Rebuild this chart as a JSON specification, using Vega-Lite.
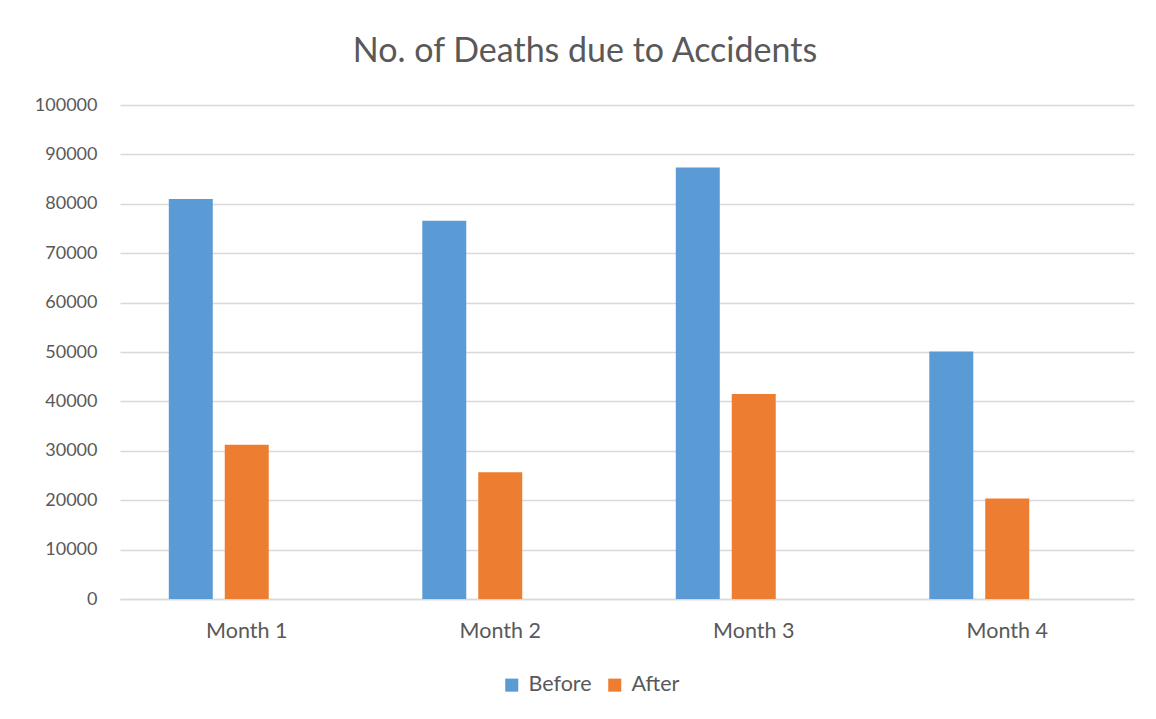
{
  "$schema": "https://vega.github.io/schema/vega-lite/v6.json",
  "autosize": {"type": "none"},
  "width": 1014,
  "height": 494,
  "padding": {"left": 120, "top": 105, "right": 22, "bottom": 120},
  "background": "white",
  "config": {
    "font": "Lato",
    "view": {"stroke": null},
    "axis": {"labelColor": "#595959", "labelFont": "Lato"},
    "legend": {"labelColor": "#595959", "labelFont": "Lato"}
  },
  "title": {
    "text": "No. of Deaths due to Accidents",
    "fontSize": 34,
    "fontWeight": "normal",
    "color": "#595959",
    "font": "Lato",
    "anchor": "middle",
    "frame": "group",
    "dx": -42,
    "offset": 27
  },
  "data": {
    "values": [
      {"month": "Month 1", "period": "Before", "deaths": 80950},
      {"month": "Month 1", "period": "After", "deaths": 31200},
      {"month": "Month 2", "period": "Before", "deaths": 76550},
      {"month": "Month 2", "period": "After", "deaths": 25650},
      {"month": "Month 3", "period": "Before", "deaths": 87350},
      {"month": "Month 3", "period": "After", "deaths": 41500},
      {"month": "Month 4", "period": "Before", "deaths": 50100},
      {"month": "Month 4", "period": "After", "deaths": 20350}
    ]
  },
  "mark": {"type": "bar"},
  "encoding": {
    "x": {
      "field": "month",
      "type": "nominal",
      "sort": null,
      "scale": {"paddingInner": 0.385, "paddingOuter": 0.1925},
      "axis": {
        "title": null,
        "labelAngle": 0,
        "labelFontSize": 21.5,
        "labelPadding": 21,
        "ticks": false,
        "domainColor": "#D9D9D9",
        "domainWidth": 1.5
      }
    },
    "xOffset": {
      "field": "period",
      "type": "nominal",
      "scale": {"domain": ["Before", "After", "Blank"], "paddingInner": 0.214, "paddingOuter": 0}
    },
    "y": {
      "field": "deaths",
      "type": "quantitative",
      "scale": {"domain": [0, 100000], "nice": false},
      "axis": {
        "title": null,
        "values": [0, 10000, 20000, 30000, 40000, 50000, 60000, 70000, 80000, 90000, 100000],
        "format": "d",
        "labelFontSize": 18,
        "labelPadding": 23,
        "ticks": false,
        "domain": false,
        "gridColor": "#D9D9D9",
        "gridWidth": 1.5
      }
    },
    "color": {
      "field": "period",
      "type": "nominal",
      "scale": {"domain": ["Before", "After"], "range": ["#5B9BD5", "#ED7D31"]},
      "legend": {
        "title": null,
        "orient": "none",
        "direction": "horizontal",
        "legendX": 381,
        "legendY": 569,
        "symbolType": "square",
        "symbolSize": 170,
        "symbolStrokeWidth": 0,
        "labelFontSize": 21.5,
        "labelOffset": 6,
        "columnPadding": 12
      }
    }
  }
}
